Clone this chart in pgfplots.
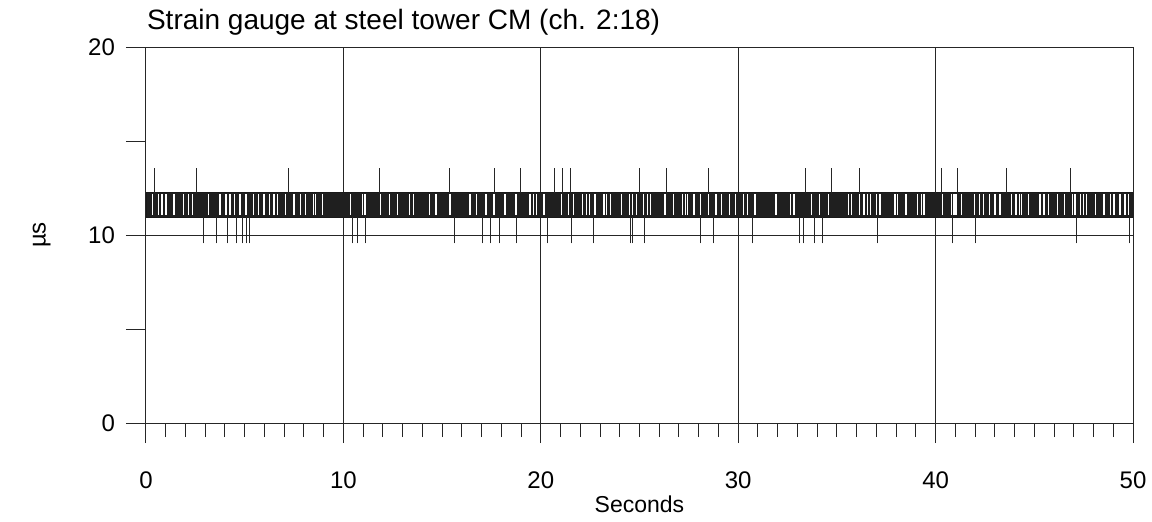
\documentclass[border=0pt]{standalone}
\usepackage{fontspec}
\setmainfont{Liberation Sans}
\usepackage{pgfplots}
\pgfplotsset{compat=1.18}
\begin{document}
\begin{tikzpicture}
\useasboundingbox (-73pt,-49pt) rectangle (503pt,211.5pt);
\begin{axis}[
  at={(0,0)}, anchor=south west,
  scale only axis, width=493.5pt, height=188pt,
  xmin=0, xmax=50, ymin=0, ymax=20,
  xtick={0,10,...,50}, minor x tick num=9,
  ytick={0,10,20},
  extra y ticks={5,15}, extra y tick labels={},
  extra y tick style={grid=none},
  tick pos=left, tick align=outside,
  major tick length=10pt, minor tick length=7pt,
  xmajorgrids, ymajorgrids,
  grid style={black!85, line width=0.5pt},
  axis line style={black!85, line width=0.5pt},
  every tick/.style={black!85, line width=0.5pt},
  /pgf/number format/assume math mode=true,
  ticklabel style={font=\fontsize{12}{14}\selectfont},
  xticklabel shift=11pt,
  yticklabel shift=2pt,
  xlabel={Seconds}, xlabel style={font=\fontsize{11.5}{14}\selectfont, yshift=3.5pt},
  ylabel={µs}, ylabel style={font=\fontsize{12}{14}\selectfont}, ylabel shift=-12pt,
  title={Strain gauge at steel tower CM (ch. 2:18)},
  title style={font=\fontsize{14}{16}\selectfont, at={(0,1)}, anchor=base west, yshift=3pt, xshift=-3pt},
]
% quantisation band (signal toggling between two levels)
\addplot[fill=black!88, draw=black!90, line width=0.4pt] coordinates
  {(0,10.95) (50,10.95) (50,12.25) (0,12.25) (0,10.95)};
% intervals where the signal rests at one level (gaps in the band)
\addplot[draw=none, mark=none, error bars/.cd, y dir=both, y fixed=0.56,
  error mark=none, error bar style={draw=white, line width=0.6pt}] coordinates {
(0.34,11.6) (0.62,11.6) (0.81,11.6) (1.01,11.6) (1.42,11.6) (1.89,11.6) (2.14,11.6) (2.35,11.6)
(3.16,11.6) (3.75,11.6) (4.05,11.6) (4.26,11.6) (4.47,11.6) (4.76,11.6) (5.07,11.6) (5.44,11.6)
(5.69,11.6) (5.98,11.6) (6.25,11.6) (6.48,11.6) (6.65,11.6) (7.08,11.6) (7.50,11.6) (7.84,11.6)
(8.09,11.6) (8.48,11.6) (8.60,11.6) (8.95,11.6)
(10.34,11.6) (10.98,11.6) (11.09,11.6) (11.89,11.6) (12.33,11.6) (12.73,11.6) (13.34,11.6)
(13.54,11.6) (14.35,11.6) (14.69,11.6) (15.40,11.6) (16.41,11.6) (16.75,11.6) (17.22,11.6)
(17.63,11.6) (18.19,11.6) (18.74,11.6) (19.45,11.6) (19.62,11.6) (19.79,11.6)
(20.16,11.6) (21.06,11.6) (21.40,11.6) (21.65,11.6) (22.12,11.6) (22.33,11.6) (22.46,11.6)
(22.75,11.6) (23.20,11.6) (23.31,11.6) (23.54,11.6) (24.10,11.6) (24.48,11.6) (24.65,11.6)
(24.86,11.6) (25.19,11.6) (25.40,11.6) (25.57,11.6) (26.29,11.6) (26.71,11.6) (27.19,11.6)
(27.32,11.6) (27.42,11.6) (27.76,11.6) (28.07,11.6) (28.49,11.6) (28.88,11.6) (29.16,11.6)
(29.55,11.6) (29.86,11.6)
(30.26,11.6) (30.46,11.6) (30.85,11.6) (31.91,11.6) (32.66,11.6) (32.83,11.6) (33.72,11.6)
(34.11,11.6) (34.57,11.6) (35.58,11.6) (35.75,11.6) (36.14,11.6) (36.37,11.6) (36.54,11.6)
(36.71,11.6) (37.01,11.6) (37.18,11.6) (37.94,11.6) (38.06,11.6) (38.50,11.6) (39.07,11.6)
(39.29,11.6) (39.41,11.6)
(40.36,11.6) (40.81,11.6) (40.93,11.6) (41.03,11.6) (41.32,11.6) (41.99,11.6) (42.21,11.6)
(42.42,11.6) (42.72,11.6) (43.01,11.6) (43.26,11.6) (43.85,11.6) (44.07,11.6) (44.24,11.6)
(44.36,11.6) (44.70,11.6) (45.29,11.6) (45.49,11.6) (45.71,11.6) (46.17,11.6) (46.51,11.6)
(46.95,11.6) (47.06,11.6) (47.32,11.6) (47.48,11.6) (47.66,11.6) (48.08,11.6) (48.53,11.6)
(48.84,11.6) (49.04,11.6) (49.34,11.6) (49.59,11.6) (49.76,11.6)
};
% upward spikes
\addplot[draw=none, mark=none, error bars/.cd, y dir=minus, y fixed=1.3,
  error mark=none, error bar style={draw=black!85, line width=0.5pt}] coordinates {
(0.42,13.55) (2.57,13.55) (7.21,13.55) (11.85,13.55) (15.37,13.55) (17.63,13.55) (18.98,13.55)
(20.69,13.55) (21.11,13.55) (21.51,13.55) (25.02,13.55) (26.38,13.55) (28.49,13.55)
(33.40,13.55) (34.75,13.55) (36.17,13.55) (39.98,13.55) (40.28,13.55) (41.10,13.55)
(43.60,13.55) (46.85,13.55)
};
% downward spikes
\addplot[draw=none, mark=none, error bars/.cd, y dir=plus, y fixed=1.4,
  error mark=none, error bar style={draw=black!85, line width=0.5pt}] coordinates {
(2.90,9.55) (3.58,9.55) (4.14,9.55) (4.59,9.55) (4.90,9.55) (5.07,9.55) (5.24,9.55)
(10.47,9.55) (10.70,9.55) (11.11,9.55) (15.61,9.55) (17.06,9.55) (17.46,9.55) (17.90,9.55)
(18.78,9.55) (20.33,9.55) (21.57,9.55) (22.66,9.55) (24.52,9.55) (24.62,9.55) (25.25,9.55)
(28.07,9.55) (28.77,9.55) (30.73,9.55) (33.13,9.55) (33.30,9.55) (33.84,9.55) (34.28,9.55)
(37.07,9.55) (40.86,9.55) (42.01,9.55) (47.14,9.55) (49.81,9.55)
};
\end{axis}
\end{tikzpicture}
\end{document}
